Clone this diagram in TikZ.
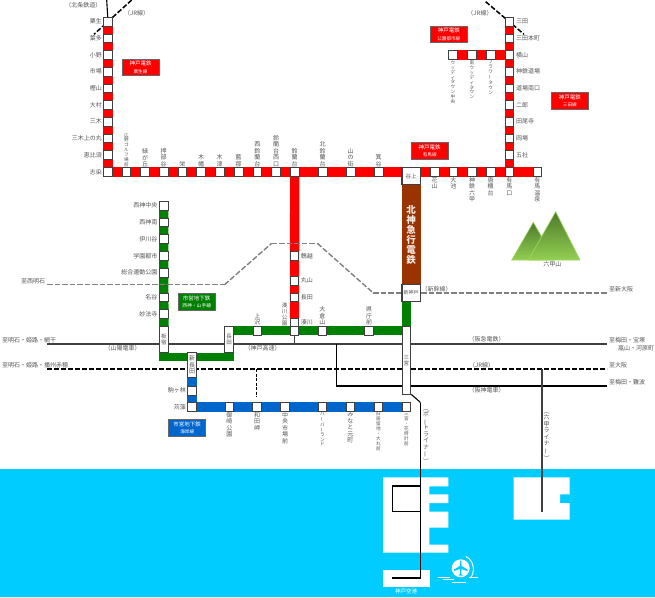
\documentclass[tikz,border=0pt]{standalone}
\usepackage{graphicx}
\usepackage{fontspec}
\setmainfont{Noto Sans CJK JP}
\usepackage{tikz}
\usetikzlibrary{backgrounds,shadings}
\definecolor{myred}{RGB}{255, 0, 0}
\definecolor{mygreen}{RGB}{0, 128, 0}
\definecolor{myblue}{RGB}{0, 102, 204}
\definecolor{mybrown}{RGB}{153, 51, 0}
\definecolor{mysea}{RGB}{0, 204, 255}
\definecolor{myink}{RGB}{64, 64, 64}
\definecolor{mytext}{RGB}{85, 85, 85}
\definecolor{mytop}{RGB}{77, 122, 42}
\definecolor{mybase}{RGB}{146, 207, 82}
\definecolor{myedge}{RGB}{160, 216, 96}
\newcommand{\vb}{\rotatebox[origin=c]{90}{ー}}
\newcommand{\vo}{\rotatebox[origin=c]{-90}{（}}
\newcommand{\vc}{\rotatebox[origin=c]{-90}{）}}
\tikzset{
  stn/.style={draw=myink, fill=white, line width=0.9pt, minimum size=8.6pt, inner sep=0pt},
  tallstn/.style={stn, minimum width=8.6pt, minimum height=26pt, align=center, text=mytext, font=\fontsize{5.5}{6}\selectfont},
  widestn/.style={stn, minimum width=18.5pt, minimum height=17pt, line width=1.1pt, text=mytext, font=\fontsize{5.5}{6}\selectfont},
  lab/.style={inner sep=0pt, text=mytext, font=\fontsize{6}{6.5}\selectfont},
  vlab/.style={lab, align=center, anchor=south},
  vlabb/.style={lab, align=center, anchor=north},
  vsmall/.style={vlab, font=\fontsize{4.6}{4.9}\selectfont},
  vsmallb/.style={vlabb, font=\fontsize{4.6}{4.9}\selectfont},
  legend/.style={minimum width=37pt, minimum height=16.5pt, inner sep=0pt, align=center, text=white, draw=myink!80, line width=0.8pt, font=\fontsize{5.5}{7.5}\selectfont},
  redline/.style={draw=myred, line width=9.3pt},
  greenline/.style={draw=mygreen, line width=9.3pt},
  blueline/.style={draw=myblue, line width=9.3pt},
  graydash/.style={draw=gray, line width=1.4pt, dash pattern=on 5.5pt off 2pt},
  blackdash/.style={draw=black, line width=1.5pt, dash pattern=on 5pt off 2pt},
  darkline/.style={draw=myink, line width=1.8pt},
  thinline/.style={draw=black, line width=1.1pt}
}

\begin{document}
\begin{tikzpicture}[x=1pt, y=-1pt]
  \useasboundingbox (0,0) rectangle (655,597);

  % ao line
  \node[stn] (a1) at (108,21.7) {};
  \node[stn] (a2) at (108,38.3) {};
  \node[stn] (a3) at (108,55) {};
  \node[stn] (a4) at (108,71.7) {};
  \node[stn] (a5) at (108,88.3) {};
  \node[stn] (a6) at (108,105) {};
  \node[stn] (a7) at (108,121.7) {};
  \node[stn] (a8) at (108,138.3) {};
  \node[stn] (a9) at (108,155) {};
  \node[stn] (a10) at (108,172) {};
  \node[stn] (a11) at (126.3,172) {};
  \node[stn] (a12) at (145,172) {};
  \node[stn] (a13) at (163.7,172) {};
  \node[stn] (a14) at (182.3,172) {};
  \node[stn] (a15) at (201,172) {};
  \node[stn] (a16) at (219.7,172) {};
  \node[stn] (a17) at (238.7,172) {};
  \node[stn] (a18) at (257.3,172) {};
  \node[stn] (a19) at (276,172) {};

  % arima line
  \node[stn] (b1) at (294.7,172) {};
  \node[stn] (b2) at (322.7,172) {};
  \node[stn] (b3) at (350.7,172) {};
  \node[stn] (b4) at (378.7,172) {};
  \node[widestn] (tanigami) at (411.2,176.3) {谷上};
  \node[stn] (b6) at (434.7,172) {};
  \node[stn] (b7) at (453.3,172) {};
  \node[stn] (b8) at (472,172) {};
  \node[stn] (b9) at (490.7,172) {};
  \node[stn] (b10) at (509.3,172) {};
  \node[stn] (b11) at (537.3,172) {};
  \node[stn] (c1) at (294.5,256) {};
  \node[stn] (c2) at (294.5,280.7) {};
  \node[stn] (c3) at (294.5,297.3) {};
  \node[stn] (c4) at (294.5,322.7) {};

  % sanda line
  \node[stn] (s1) at (509.3,21.7) {};
  \node[stn] (s2) at (509.3,38.3) {};
  \node[stn] (s3) at (509.3,55) {};
  \node[stn] (s4) at (509.3,71.7) {};
  \node[stn] (s5) at (509.3,88.3) {};
  \node[stn] (s6) at (509.3,105) {};
  \node[stn] (s7) at (509.3,121.7) {};
  \node[stn] (s8) at (509.3,138.3) {};
  \node[stn] (s9) at (509.3,155) {};
  \node[stn] (k1) at (453,55) {};
  \node[stn] (k2) at (472,55) {};
  \node[stn] (k3) at (490.7,55) {};

  % seishin yamate line
  \node[stn] (g1) at (163.7,205.7) {};
  \node[stn] (g2) at (163.7,222.3) {};
  \node[stn] (g3) at (163.7,239) {};
  \node[stn] (g4) at (163.7,256) {};
  \node[stn] (g5) at (163.7,272.7) {};
  \node[stn] (g6) at (163.7,297.3) {};
  \node[stn] (g7) at (163.7,314) {};
  \node[tallstn] (itayado) at (163.9,339.7) {板\\宿};
  \node[tallstn] (nagata) at (229,339.7) {長\\田};
  \node[stn] (g10) at (257.3,330.7) {};
  \node[stn] (g11) at (294.5,330.7) {};
  \node[stn] (g12) at (322.3,330.7) {};
  \node[stn] (g13) at (369,330.7) {};
  \node[tallstn, minimum height=67.6pt] (sannomiya) at (406.4,360.5) {三\\宮};
  \node[widestn] (shinkobe) at (411.2,293) {\fontsize{5}{5}\selectfont 新神戸};

  % kaigan line
  \node[tallstn, minimum height=24.3pt, font=\fontsize{6}{6.8}\selectfont] (shinnagata) at (192,364.8) {新\\長\\田};
  \node[stn] (m1) at (192,390.7) {};
  \node[stn] (m2) at (192,407) {};
  \node[stn] (m3) at (229.3,407) {};
  \node[stn] (m4) at (257,407) {};
  \node[stn] (m5) at (285,407) {};
  \node[stn] (m6) at (322.3,407) {};
  \node[stn] (m7) at (350.3,407) {};
  \node[stn] (m8) at (378.3,407) {};
  \node[stn] (m9) at (406.3,407) {};

  % free ends
  \coordinate (kita) at (106.7,0);
  \coordinate (jr1) at (131.7,0);
  \coordinate (jr2) at (94,34.3);
  \coordinate (jr3) at (485.7,1.7);
  \coordinate (jr4) at (524,34.3);
  \coordinate (sk1) at (47,284.7);
  \coordinate (sk2) at (224.5,284.7);
  \coordinate (sk3) at (271.7,243.3);
  \coordinate (sk4) at (317.3,243.3);
  \coordinate (sk5) at (373.3,293);
  \coordinate (sk6) at (607,293);
  \coordinate (e1) at (47,344);
  \coordinate (e2) at (607,344);
  \coordinate (e3) at (47,369);
  \coordinate (e4) at (607,369);
  \coordinate (e5) at (294.5,344);
  \coordinate (e6) at (336.3,344);
  \coordinate (e7) at (336.3,386);
  \coordinate (e8) at (607,386);
  \coordinate (e9) at (256.5,369);
  \coordinate (e10) at (256.5,397);
  \coordinate (r1) at (542,369);
  \coordinate (r2) at (542,511.7);
  \coordinate (g20) at (159.2,356.7);
  \coordinate (g21) at (233.7,356.7);
  \coordinate (p1) at (411.2,394.3);
  \coordinate (p2) at (420.5,402.5);
  \coordinate (p3) at (420.5,578);
  \coordinate (p4) at (392.3,578);
  \coordinate (p5) at (420.5,486);
  \coordinate (p6) at (392.3,486);
  \coordinate (p7) at (392.3,511.7);
  \coordinate (p8) at (420.5,511.7);

  \begin{scope}[on background layer]
    % sea and islands
    \fill[mysea] (0,469) rectangle (655,597);
    \fill[white] (383,477.3) -- (448.3,477.3) -- (448.3,486.3) -- (429.3,486.3) -- (429.3,494.3)
      -- (448.3,494.3) -- (448.3,503) -- (429.3,503) -- (429.3,511.7) -- (448.3,511.7)
      -- (448.3,527.7) -- (429.3,527.7) -- (429.3,544.7) -- (448.3,544.7) -- (448.3,552.7)
      -- (383,552.7) -- cycle;
    \fill[white] (383,569.7) rectangle (429.7,586.7);
    \fill[white] (513.7,477.3) -- (569.7,477.3) -- (569.7,494.3) -- (560,494.3) -- (560,503)
      -- (569.7,503) -- (569.7,519.7) -- (513.7,519.7) -- cycle;

    \path[redline] (a1) edge (a2);
    \path[redline] (a2) edge (a3);
    \path[redline] (a3) edge (a4);
    \path[redline] (a4) edge (a5);
    \path[redline] (a5) edge (a6);
    \path[redline] (a6) edge (a7);
    \path[redline] (a7) edge (a8);
    \path[redline] (a8) edge (a9);
    \path[redline] (a9) edge (a10);
    \path[redline] (a10) edge (tanigami.west |- a10);
    \path[redline] (tanigami.east |- a10) edge (b11);
    \path[redline] (s1) edge (b10);
    \path[redline] (k1) edge (s3);
    \path[redline] (b1) edge (c4);
    \path[greenline] (g1) edge (itayado);
    \path[greenline] (nagata.east |- g10) edge (sannomiya.west |- g10);
    \path[greenline] (shinkobe.south -| sannomiya) edge (sannomiya);
    \path[draw=mygreen, line width=8pt] (g20) edge (g21);
    \path[blueline] (shinnagata) edge (m2);
    \path[blueline] (m2) edge (m9);

    \path[darkline] (e1) edge (e2);
    \path[darkline] (g11) edge (e5);
    \path[thinline] (e6) edge (e7);
    \path[thinline] (e7) edge (e8);
    \path[blackdash] (e3) edge (e4);
    \path[blackdash, line width=1.3pt, dash pattern=on 3pt off 1.5pt] (e9) edge (e10);
    \path[darkline] (r1) edge (r2);
    \path[thinline] (p1) edge (p2);
    \path[thinline] (p2) edge (p3);
    \path[thinline] (p3) edge (p4);
    \path[thinline] (p5) edge (p6);
    \path[thinline] (p6) edge (p7);
    \path[thinline] (p7) edge (p8);
    \path[graydash] (sk1) edge (sk2);
    \path[graydash] (sk2) edge (sk3);
    \path[graydash] (sk3) edge (sk4);
    \path[graydash] (sk4) edge (sk5);
    \path[graydash] (sk5) edge (shinkobe.west |- sk5);
    \path[graydash] (shinkobe.east |- sk5) edge (sk6);
    \path[thinline] (kita) edge (a1);
    \path[blackdash] (jr1) edge (jr2);
    \path[blackdash] (jr3) edge (jr4);
  \end{scope}

  % hokushin kyuko
  \node[fill=mybrown, minimum width=19pt, minimum height=99.5pt, inner sep=0pt, align=center, text=white!90!mybrown, font=\bfseries\fontsize{9.5}{10}\selectfont] (hk) at (411.2,234.7) {北\\神\\急\\行\\電\\鉄};

  % legends
  \node[legend, fill=myred] (t1) at (140.5,67.5) {神戸電鉄\\\fontsize{4.6}{6}\selectfont 粟生線};
  \node[legend, fill=myred] (t2) at (448.8,34.3) {神戸電鉄\\\fontsize{4.6}{6}\selectfont 公園都市線};
  \node[legend, fill=myred] (t3) at (569.8,101) {神戸電鉄\\\fontsize{4.6}{6}\selectfont 三田線};
  \node[legend, fill=myred] (t4) at (429.7,150.8) {神戸電鉄\\\fontsize{4.6}{6}\selectfont 有馬線};
  \node[legend, fill=mygreen] (t5) at (196.7,301.7) {市営地下鉄\\\fontsize{4.8}{6}\selectfont 西神・山手線};
  \node[legend, fill=myblue] (t6) at (187.2,428) {市営地下鉄\\\fontsize{4.6}{6}\selectfont 海岸線};

  % left labels
  \node[lab, anchor=east] (la1) at (102,21.7) {粟生};
  \node[lab, anchor=east] (la2) at (102,38.3) {葉多};
  \node[lab, anchor=east] (la3) at (102,55) {小野};
  \node[lab, anchor=east] (la4) at (102,71.7) {市場};
  \node[lab, anchor=east] (la5) at (102,88.3) {樫山};
  \node[lab, anchor=east] (la6) at (102,105) {大村};
  \node[lab, anchor=east] (la7) at (102,121.7) {三木};
  \node[lab, anchor=east] (la8) at (102,138.3) {三木上の丸};
  \node[lab, anchor=east] (la9) at (102,155) {恵比須};
  \node[lab, anchor=east] (la10) at (102,172) {志染};
  \node[lab, anchor=east] (lg1) at (157.5,205.7) {西神中央};
  \node[lab, anchor=east] (lg2) at (157.5,222.3) {西神南};
  \node[lab, anchor=east] (lg3) at (157.5,239) {伊川谷};
  \node[lab, anchor=east] (lg4) at (157.5,256) {学園都市};
  \node[lab, anchor=east] (lg5) at (157.5,272.7) {総合運動公園};
  \node[lab, anchor=east] (lg6) at (157.5,297.3) {名谷};
  \node[lab, anchor=east] (lg7) at (157.5,314) {妙法寺};
  \node[lab, anchor=east] (lm1) at (186,390.7) {駒ヶ林};
  \node[lab, anchor=east] (lm2) at (186,407) {苅藻};

  % right labels
  \node[lab, anchor=west] (ls1) at (516,21.7) {三田};
  \node[lab, anchor=west] (ls2) at (516,38.3) {三田本町};
  \node[lab, anchor=west] (ls3) at (516,55) {横山};
  \node[lab, anchor=west] (ls4) at (516,71.7) {神鉄道場};
  \node[lab, anchor=west] (ls5) at (516,88.3) {道場南口};
  \node[lab, anchor=west] (ls6) at (516,105) {二郎};
  \node[lab, anchor=west] (ls7) at (516,121.7) {田尾寺};
  \node[lab, anchor=west] (ls8) at (516,138.3) {岡場};
  \node[lab, anchor=west] (ls9) at (516,155) {五社};
  \node[lab, anchor=west] (lc1) at (300.7,256) {鵯越};
  \node[lab, anchor=west] (lc2) at (300.7,280.7) {丸山};
  \node[lab, anchor=west] (lc3) at (300.7,297.3) {長田};
  \node[lab, anchor=west] (lc4) at (300.7,322.7) {湊川};

  % labels above the arima and ao lines
  \node[vsmall] (l11) at (126.3,167) {広\\野\\ゴ\\ル\\フ\\場\\前};
  \node[vlab] (l12) at (145,167) {緑\\が\\丘};
  \node[vlab] (l13) at (163.7,167) {押\\部\\谷};
  \node[vlab] (l14) at (182.3,167) {栄};
  \node[vlab] (l15) at (201,167) {木\\幡};
  \node[vlab] (l16) at (219.7,167) {木\\津};
  \node[vlab] (l17) at (238.7,167) {藍\\那};
  \node[vlab] (l18) at (257.3,167) {西\\鈴\\蘭\\台};
  \node[vlab] (l19) at (276,167) {鈴\\蘭\\台\\西\\口};
  \node[vlab] (l20) at (294.7,167) {鈴\\蘭\\台};
  \node[vlab] (l21) at (322.7,167) {北\\鈴\\蘭\\台};
  \node[vlab] (l22) at (350.7,167) {山\\の\\街};
  \node[vlab] (l23) at (378.7,167) {箕\\谷};

  % labels below
  \node[vlabb] (l24) at (434.7,177) {花\\山};
  \node[vlabb] (l25) at (453.3,177) {大\\池};
  \node[vlabb] (l26) at (472,177) {神\\鉄\\六\\甲};
  \node[vlabb] (l27) at (490.7,177) {唐\\櫃\\台};
  \node[vlabb] (l28) at (509.3,177) {有\\馬\\口};
  \node[vlabb] (l29) at (537.3,177) {有\\馬\\温\\泉};
  \node[vsmallb] (lk1) at (453,60.5) {ウ\\ッ\\デ\\ィ\\タ\\ウ\\ン\\中\\央};
  \node[vsmallb] (lk2) at (472,60.5) {南\\ウ\\ッ\\デ\\ィ\\タ\\ウ\\ン};
  \node[vsmallb] (lk3) at (490.7,60.5) {フ\\ラ\\ワ\\\vb\\タ\\ウ\\ン};
  \node[vlabb] (lm3) at (229.3,412) {御\\崎\\公\\園};
  \node[vlabb] (lm4) at (257,412) {和\\田\\岬};
  \node[vlabb] (lm5) at (285,412) {中\\央\\市\\場\\前};
  \node[vsmallb] (lm6) at (322.3,412) {ハ\\\vb\\バ\\\vb\\ラ\\ン\\ド};
  \node[vlabb] (lm7) at (350.3,412) {み\\な\\と\\元\\町};
  \node[vsmallb] (lm8) at (378.3,412) {旧\\居\\留\\地\\・\\大\\丸\\前};
  \node[vsmallb] (lm9) at (406.3,412) {三\\宮\\・\\花\\時\\計\\前};

  % labels on the green line
  \node[vlab, font=\fontsize{5.5}{6}\selectfont] (lc4a) at (284.5,326) {湊\\川\\公\\園};
  \node[vlab] (lg10) at (257.3,325.5) {上\\沢};
  \node[vlab] (lg12) at (322.3,325.5) {大\\倉\\山};
  \node[vlab] (lg13) at (369,325.5) {県\\庁\\前};

  % other lines and directions
  \node[lab] (n1) at (83.3,5) {（北条鉄道）};
  \node[lab] (n2) at (136.7,13.3) {（JR線）};
  \node[lab] (n3) at (480,13.3) {（JR線）};
  \node[lab, anchor=west] (n4) at (21,281) {至西明石};
  \node[lab, anchor=west] (n5) at (2,340) {至明石・姫路・網干};
  \node[lab, anchor=west] (n6) at (2,365) {至明石・姫路・播州赤穂};
  \node[lab] (n7) at (122.7,348.3) {（山陽電車）};
  \node[lab] (n8) at (262.7,348.3) {（神戸高速）};
  \node[lab] (n9) at (436.7,289) {（新幹線）};
  \node[lab] (n10) at (486.7,339.7) {（阪急電鉄）};
  \node[lab] (n11) at (481.7,365) {（JR線）};
  \node[lab] (n12) at (486.7,390.3) {（阪神電車）};
  \node[lab, anchor=west] (n13) at (609,289) {至新大阪};
  \node[lab, anchor=west] (n14) at (609,340) {至梅田・宝塚};
  \node[lab, anchor=west] (n15) at (618,348.3) {嵐山・河原町};
  \node[lab, anchor=west] (n16) at (609,365) {至大阪};
  \node[lab, anchor=west] (n17) at (609,382) {至梅田・難波};
  \node[vlabb] (n18) at (426,405) {\vo\\ポ\\\vb\\ト\\ラ\\イ\\ナ\\\vb\\\vc};
  \node[vlabb] (n19) at (546.7,408) {\vo\\六\\甲\\ラ\\イ\\ナ\\\vb\\\vc};
  \node[lab, text=white, font=\fontsize{5.5}{6}\selectfont] (n20) at (406,591) {神戸空港};

  % rokko
  \shade[top color=mytop, bottom color=mybase, draw=myedge, line width=0.6pt] (533.3,222.3) -- (511.7,260) -- (555,260) -- cycle;
  \shade[top color=mytop, bottom color=mybase, draw=myedge, line width=0.6pt] (555.7,211.7) -- (528.3,260) -- (580,260) -- cycle;
  \node[lab] (n21) at (552.3,264.5) {六甲山};

  % airport mark
  \fill[white] (460.7,568.3) circle (9pt);
  \fill[mysea] (460.2,560.5) -- (461.2,560.5) -- (461.6,566) -- (467.5,569.5) -- (467.5,571)
    -- (461.5,569) -- (461.2,574) -- (463,575.5) -- (458.5,575.5) -- (460.2,574) -- (459.9,569)
    -- (454,571) -- (454,569.5) -- (459.8,566) -- cycle;
  \draw[white, line width=1pt] (466,556.5) .. controls (475,561) and (475,574) .. (470,578);
  \draw[white, line width=0.8pt] (438,577) -- (450,577);
  \draw[white, line width=0.8pt] (443,579.3) -- (454,579.3);
  \draw[white, line width=0.8pt] (469,577) -- (478,577);
  \draw[white, line width=0.8pt] (451.7,582.3) -- (466,582.3);
\end{tikzpicture}
\end{document}
